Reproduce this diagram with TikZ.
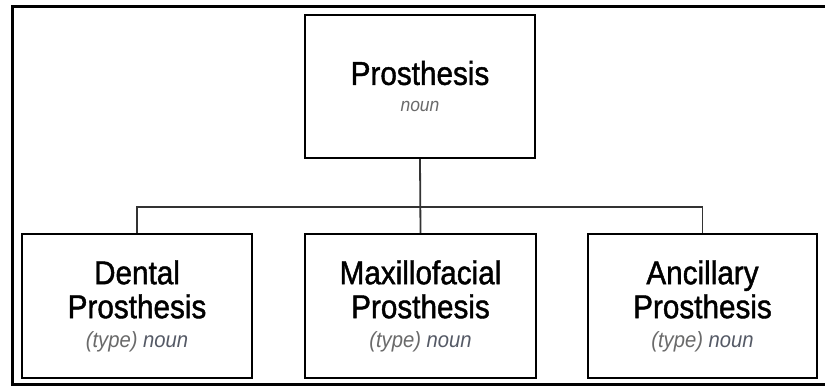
\documentclass[tikz,border=0pt]{standalone}
\usepackage{fontspec}
\setmainfont{Liberation Sans}
\newfontfamily\labelfont[FakeStretch=0.9, FakeBold=1.3]{Liberation Sans}
\newfontfamily\posfont[FakeStretch=0.92]{Liberation Sans}
\definecolor{pos}{HTML}{555A66}
\definecolor{tag}{HTML}{6A6A6A}
\begin{document}
\begin{tikzpicture}[x=1pt,y=-1pt,
  frame/.style={draw=black, line width=3pt},
  box/.style={draw=black, line width=2.2pt, fill=white, inner sep=0pt,
    minimum width=230pt, minimum height=144pt, align=center,
    font=\labelfont\fontsize{33}{34}\selectfont},
  link/.style={draw=black!80, line width=1.8pt}
]
\useasboundingbox (0,0) rectangle (825,386);
\fill[white] (0,0) rectangle (825,386);
% outer frame (its right side runs past the page edge)
\draw[frame] (12,6) rectangle (828,384);

% top concept
\node[box, minimum height=143pt] (top) at (420,86.5)
  {Prosthesis\\[-7pt]{\posfont\fontsize{19}{20}\selectfont\itshape\color{tag}noun}};

% the three kinds
\node[box] (dental) at (137,306)
  {Dental\\Prosthesis\\[-5pt]{\posfont\fontsize{22}{24}\selectfont\itshape{\color{tag}(type)} {\color{pos}noun}}};
\node[box, minimum width=231pt] (maxfac) at (420.5,306)
  {Maxillofacial\\Prosthesis\\[-5pt]{\posfont\fontsize{22}{24}\selectfont\itshape{\color{tag}(type)} {\color{pos}noun}}};
\node[box, minimum width=229pt] (ancil) at (702.5,306)
  {Ancillary\\Prosthesis\\[-5pt]{\posfont\fontsize{22}{24}\selectfont\itshape{\color{tag}(type)} {\color{pos}noun}}};

% connectors
\coordinate (bus) at (420.5,207);
\draw[link] (top.south) -- (maxfac.north);
\draw[link] (dental.north) |- (bus) -| (ancil.north);
\end{tikzpicture}
\end{document}
